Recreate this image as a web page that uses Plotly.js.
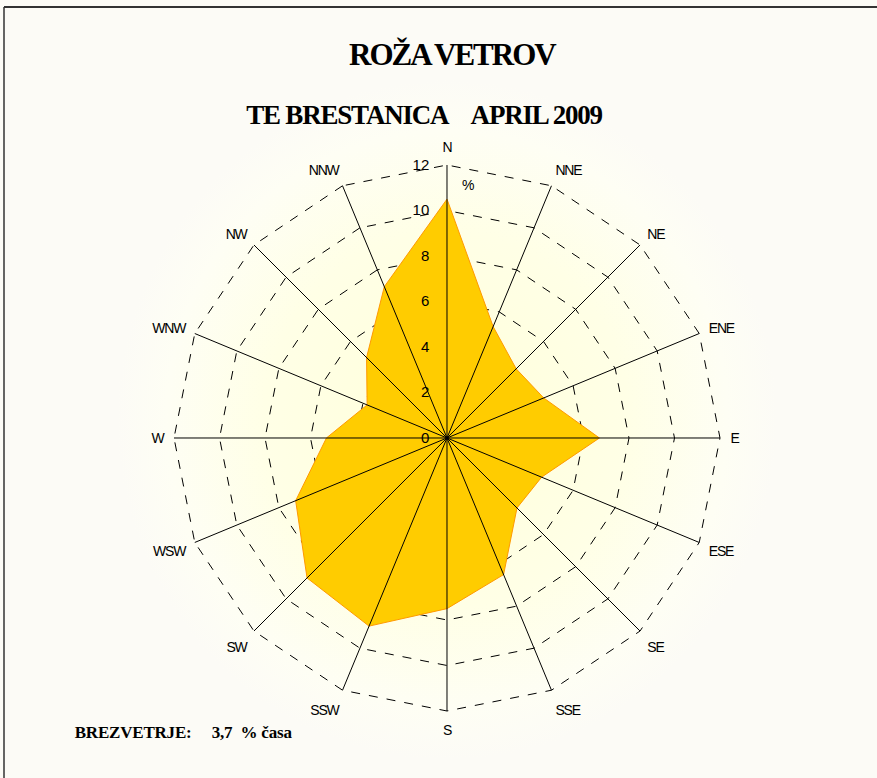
<!DOCTYPE html>
<html>
<head>
<meta charset="utf-8">
<script src="https://cdn.plot.ly/plotly-3.0.1.min.js"></script>
<style>
html, body { margin:0; padding:0; }
body {
  width:877px; height:778px; overflow:hidden;
  background: radial-gradient(ellipse 330px 340px at 447px 420px, #FFFFDA 0%, #FFFFE6 55%, #FEFEF4 85%, #FCFBF6 100%);
}
#chart { width:877px; height:778px; }
.angularaxistick text { letter-spacing:-1.2px; }
</style>
</head>
<body>
<div id="chart"></div>
<script>
// ---- data ----
const directions = ['N','NNE','NE','ENE','E','ESE','SE','SSE','S','SSW','SW','WSW','W','WNW','NW','NNW'];
const frequency = [10.5, 5.3, 4.3, 4.6, 6.7, 4.5, 4.35, 6.5, 7.5, 8.95, 8.7, 7.2, 5.3, 3.8, 5.0, 7.2];
const radialTicks = [0, 2, 4, 6, 8, 10, 12];
const titleText = 'ROŽA VETROV';
const subtitleText = 'TE BRESTANICA&nbsp;&nbsp;&nbsp;&nbsp;APRIL 2009';
const calmLabel = 'BREZVETRJE:';
const calmValue = '3,7';
const calmUnit = '% časa';

const rMax = radialTicks[radialTicks.length - 1];

// rose polygon (closed)
const roseTrace = {
  type: 'scatterpolar',
  r: frequency.concat([frequency[0]]),
  theta: directions.concat([directions[0]]),
  mode: 'lines',
  fill: 'toself',
  fillcolor: '#FFCC00',
  line: { color: '#FF9900', width: 1 },
  hoverinfo: 'skip'
};

// spokes drawn above the fill
const spokeR = [], spokeT = [];
directions.forEach(d => { spokeR.push(0, rMax, null); spokeT.push(d, d, null); });
const spokeTrace = {
  type: 'scatterpolar', r: spokeR, theta: spokeT, mode: 'lines',
  line: { color: '#000000', width: 1 }, connectgaps: false, hoverinfo: 'skip'
};

const centreTrace = {
  type: 'scatterpolar', r: [0], theta: [directions[0]], mode: 'markers',
  marker: { color: '#000000', size: 7 }, hoverinfo: 'skip'
};

const W = 877, H = 778;
const cx = 447, cy = 438, R = 273;
const rEdge = rMax * 1.004;
const Rp = R * 1.004;

const layout = {
  width: W, height: H,
  margin: { l: 0, r: 0, t: 0, b: 0 },
  paper_bgcolor: 'rgba(0,0,0,0)',
  showlegend: false,
  font: { family: 'Liberation Sans, Arial, sans-serif', color: '#000' },
  polar: {
    domain: { x: [(cx - Rp) / W, (cx + Rp) / W], y: [(H - cy - Rp) / H, (H - cy + Rp) / H] },
    bgcolor: 'rgba(0,0,0,0)',
    gridshape: 'linear',
    radialaxis: {
      range: [0, rEdge],
      tickvals: radialTicks,
      ticktext: radialTicks.map(String),
      angle: 90,
      tickangle: 90,
      side: 'counterclockwise',
      showline: false,
      showgrid: true,
      gridcolor: '#000000',
      gridwidth: 1,
      griddash: 'dash',
      ticks: 'outside',
      ticklen: 12,
      tickcolor: 'rgba(0,0,0,0)',
      tickfont: { size: 15, family: 'Liberation Sans, Arial, sans-serif', color: '#000' },
      layer: 'above traces'
    },
    angularaxis: {
      type: 'category',
      categoryarray: directions,
      rotation: 90,
      direction: 'clockwise',
      showgrid: false,
      showline: false,
      ticks: 'outside',
      ticklen: 6,
      tickcolor: 'rgba(0,0,0,0)',
      tickfont: { size: 14, family: 'Liberation Sans, Arial, sans-serif', color: '#000' }
    }
  },
  shapes: [
    { type: 'line', xref: 'paper', yref: 'paper', x0: 4 / W, x1: 1.01, y0: 1 - 7 / H, y1: 1 - 7 / H, line: { color: '#333', width: 2 } },
    { type: 'line', xref: 'paper', yref: 'paper', x0: 4 / W, x1: 4 / W, y0: 1 - 7 / H, y1: -0.01, line: { color: '#333', width: 1.5 } }
  ],
  annotations: [
    { text: '<b>' + titleText + '</b>', xref: 'paper', yref: 'paper', x: 452 / W, y: 1 - 54 / H,
      xanchor: 'center', yanchor: 'middle', showarrow: false,
      font: { family: 'Liberation Serif, Times New Roman, serif', size: 31, color: '#000' } },
    { text: '<b>' + subtitleText + '</b>', xref: 'paper', yref: 'paper', x: 424 / W, y: 1 - 115 / H,
      xanchor: 'center', yanchor: 'middle', showarrow: false,
      font: { family: 'Liberation Serif, Times New Roman, serif', size: 27, color: '#000' } },
    { text: '%', xref: 'paper', yref: 'paper', x: 468 / W, y: 1 - 185 / H,
      xanchor: 'center', yanchor: 'middle', showarrow: false,
      font: { family: 'Liberation Sans, Arial, sans-serif', size: 14, color: '#000' } },
    { text: '<b>' + calmLabel + '&nbsp;&nbsp;&nbsp;&nbsp;&nbsp;' + calmValue + '&nbsp;&nbsp;' + calmUnit + '</b>',
      xref: 'paper', yref: 'paper', x: 70 / W, y: 1 - 732 / H,
      xanchor: 'left', yanchor: 'middle', showarrow: false,
      font: { family: 'Liberation Serif, Times New Roman, serif', size: 17, color: '#000' } }
  ]
};

Plotly.newPlot('chart', [roseTrace, spokeTrace, centreTrace], layout, { displayModeBar: false, staticPlot: true })
  .then(() => {
    const tt = document.querySelectorAll('.annotation-text');
    if (tt[0]) tt[0].style.letterSpacing = '-2px';
    if (tt[1]) tt[1].style.letterSpacing = '-1.2px';
    if (tt[3]) tt[3].style.letterSpacing = '-0.2px';
  });
</script>
</body>
</html>
